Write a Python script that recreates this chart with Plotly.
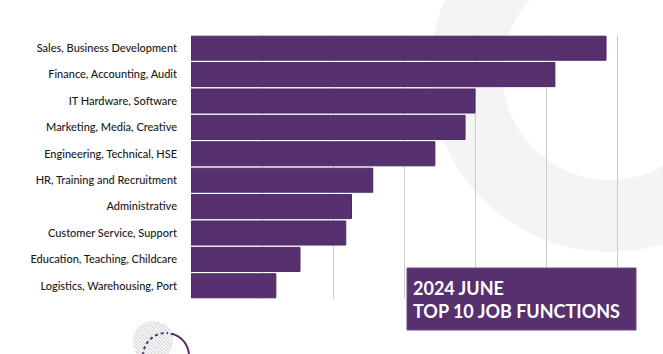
import math
import plotly.graph_objects as go

# ---- data ----
categories = [
    "Sales, Business Development",
    "Finance, Accounting, Audit",
    "IT Hardware, Software",
    "Marketing, Media, Creative",
    "Engineering, Technical, HSE",
    "HR, Training and Recruitment",
    "Administrative",
    "Customer Service, Support",
    "Education, Teaching, Childcare",
    "Logistics, Warehousing, Port",
]
values = [11.69, 10.25, 8.0, 7.72, 6.87, 5.12, 4.52, 4.36, 3.07, 2.39]
title_lines = ["2024 JUNE", "TOP 10 JOB FUNCTIONS"]

# ---- layout geometry ----
W, H = 663, 354
L, R, T, B = 191, 35, 35, 55
PW, PH = W - L - R, H - T - B
XMAX = PW / 35.5

PURPLE = "#573070"
RING = "#f4f4f4"


def px(x):
    return (x - L) / PW


def py(y):
    return (H - B - y) / PH


def circle(cx, cy, r, **kw):
    return dict(type="circle", xref="paper", yref="paper",
                x0=px(cx - r), x1=px(cx + r), y0=py(cy + r), y1=py(cy - r), **kw)


def arc_path(cx, cy, r, a0, a1, n=40):
    pts = []
    for i in range(n + 1):
        a = math.radians(a0 + (a1 - a0) * i / n)
        pts.append((px(cx + r * math.cos(a)), py(cy - r * math.sin(a))))
    return "M " + " L ".join(f"{x:.5f},{y:.5f}" for x, y in pts)


shapes = []
# background ring
shapes.append(circle(610, 72, 180, fillcolor=RING, line=dict(width=0), layer="below"))
shapes.append(circle(610, 72, 108, fillcolor="white", line=dict(width=0), layer="below"))

# hatched circle bottom-left
hcx, hcy, hr = 153, 341, 20
for k in range(-12, 13):
    c = k * 3.4
    disc = 2 * hr * hr - c * c
    if disc <= 0:
        continue
    t1 = (c - math.sqrt(disc)) / 2
    t2 = (c + math.sqrt(disc)) / 2
    x1, y1 = hcx + t1, hcy + (t1 - c)
    x2, y2 = hcx + t2, hcy + (t2 - c)
    shapes.append(dict(type="line", xref="paper", yref="paper",
                       x0=px(x1), y0=py(y1), x1=px(x2), y1=py(y2),
                       line=dict(color="#d6d6d6", width=1.2), layer="below"))
# purple circle arcs
shapes.append(dict(type="path", xref="paper", yref="paper",
                   path=arc_path(166, 356, 23, 178, 85),
                   line=dict(color=PURPLE, width=2, dash="dot"), layer="above"))
shapes.append(dict(type="path", xref="paper", yref="paper",
                   path=arc_path(166, 356, 23, 78, -10),
                   line=dict(color=PURPLE, width=2), layer="above"))

# title box
shapes.append(dict(type="rect", xref="paper", yref="paper",
                   x0=px(407), x1=px(636), y0=py(330), y1=py(268),
                   fillcolor=PURPLE, line=dict(color="#6a4a85", width=1), layer="above"))

fig = go.Figure(go.Bar(
    x=values, y=categories, orientation="h",
    marker=dict(color=PURPLE, line=dict(color="#4a2762", width=1)),
    hoverinfo="skip",
))

fig.update_layout(
    width=W, height=H,
    margin=dict(l=L, r=R, t=T, b=B, autoexpand=False),
    paper_bgcolor="white", plot_bgcolor="rgba(0,0,0,0)",
    showlegend=False,
    bargap=0.09,
    shapes=shapes,
    font=dict(family="Lato", color="#1a1a1a"),
    annotations=[dict(
        xref="paper", yref="paper", x=px(411), y=py(299), xanchor="left", yanchor="middle",
        text="<b>" + "<br>".join(title_lines) + "</b>", align="left", showarrow=False,
        font=dict(family="Lato", size=18, color="white", weight=900),
    )],
)
fig.update_xaxes(range=[0, XMAX], dtick=2, showticklabels=False, showgrid=True,
                 gridcolor="#cccccc", gridwidth=1, zeroline=False, showline=False, fixedrange=True)
fig.update_yaxes(autorange="reversed", showgrid=False, zeroline=False, showline=False,
                 ticklabelstandoff=13,
                 tickfont=dict(family="Lato", size=11, color="#1a1a1a", weight=500),
                 fixedrange=True)

fig.write_html("out.html")
